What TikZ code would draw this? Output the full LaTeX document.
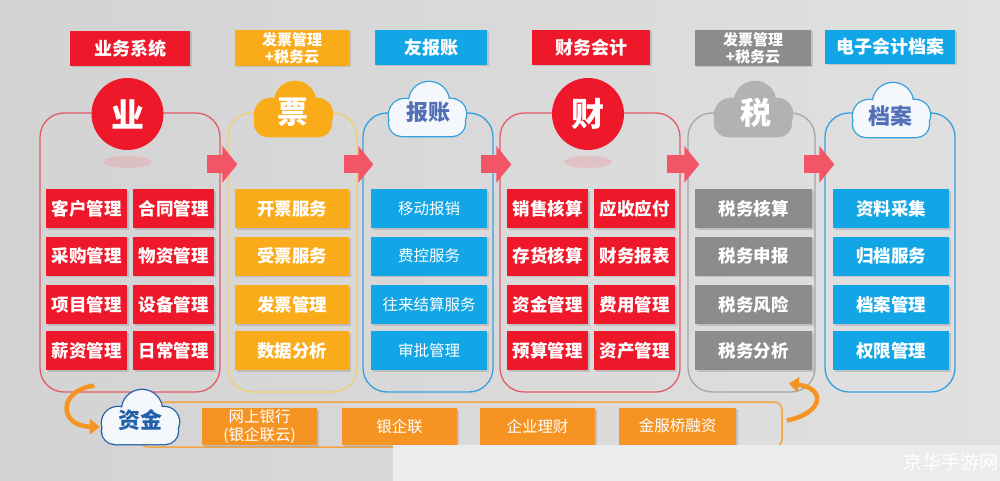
\documentclass[tikz,border=0pt]{standalone}
\usepackage{fontspec}
\setmainfont{Noto Sans CJK SC}
\usepackage{tikz}
\usetikzlibrary{arrows.meta,shadows}
\definecolor{bizred}{RGB}{238,24,42}
\definecolor{piaoorange}{RGB}{250,171,26}
\definecolor{bxblue}{RGB}{18,166,230}
\definecolor{shuigray}{RGB}{140,140,140}
\definecolor{shuicloud}{RGB}{178,178,178}
\definecolor{cashorange}{RGB}{245,148,34}
\definecolor{flowpink}{RGB}{242,86,102}
\definecolor{inkblue}{RGB}{82,112,182}
\definecolor{cashblue}{RGB}{34,96,170}
\definecolor{bggray}{RGB}{211,211,211}
\definecolor{bglight}{RGB}{224,224,224}
\definecolor{redline}{RGB}{226,92,104}
\definecolor{yellowline}{RGB}{240,206,112}
\definecolor{blueline}{RGB}{52,160,222}
\definecolor{grayline}{RGB}{165,165,165}
\definecolor{cloudwhite}{RGB}{244,247,251}
\definecolor{markgray}{RGB}{236,236,236}
\definecolor{glow}{RGB}{236,150,160}

\tikzset{
  pics/cloud/.style 2 args={code={
    \begin{scope}[draw=#2,line width=2.6pt]
    \draw[rounded corners=13pt] (-38,0) rectangle (38,26);
    \draw (-22,5) circle[radius=16pt];
    \draw (2,-8) circle[radius=20pt];
    \draw (24,4) circle[radius=15pt];
    \end{scope}
    \fill[#1,rounded corners=13pt] (-38,0) rectangle (38,26);
    \fill[#1] (-22,5) circle[radius=16pt] (2,-8) circle[radius=20pt] (24,4) circle[radius=15pt];
  }}
}

\begin{document}
\begin{tikzpicture}[x=1pt,y=-1pt,
  cell/.style={inner sep=0pt,minimum height=39pt,text=white,font=\bfseries\fontsize{17.5}{17.5}\selectfont,
    drop shadow={shadow xshift=1.5pt,shadow yshift=-1.5pt,opacity=0.3}},
  redcell/.style={cell,fill=bizred,minimum width=81pt},
  piaocell/.style={cell,fill=piaoorange,minimum width=114pt},
  bxcell/.style={cell,fill=bxblue,minimum width=116pt,font=\fontsize{15.5}{15.5}\selectfont},
  shuicell/.style={cell,fill=shuigray,minimum width=117pt},
  dangcell/.style={cell,fill=bxblue,minimum width=116pt},
  cashcell/.style={cell,fill=cashorange,minimum width=115pt,minimum height=37pt,align=center,font=\fontsize{15.5}{18}\selectfont},
  headbox/.style={inner sep=0pt,minimum height=35pt,text=white,align=center,font=\bfseries\fontsize{18}{18}\selectfont,
    drop shadow={shadow xshift=1.5pt,shadow yshift=-1.5pt,opacity=0.3}},
  panel/.style={inner sep=0pt,minimum height=279pt,line width=1.3pt,rounded corners=24pt},
  flow/.style={flowpink,line width=18pt,-{Triangle[length=15pt,width=36pt]}},
  bigchar/.style={text=white,font=\bfseries\fontsize{33}{33}\selectfont},
  cloudword/.style={text=inkblue,font=\bfseries\fontsize{22}{22}\selectfont},
  cashloop/.style={cashorange,line width=4.5pt,-{Triangle[length=10pt,width=15pt]}}
]
% background
\shade[left color=bggray,right color=bglight] (0,0) rectangle (1000,481);

% columns
\node[panel,draw=redline,minimum width=180pt] (pbiz) at (130,252.5) {};
\node[panel,draw=yellowline,minimum width=129pt] (ppiao) at (292.5,252.5) {};
\node[panel,draw=blueline,minimum width=130pt] (pbx) at (428,252.5) {};
\node[panel,draw=redline,minimum width=180pt] (pcai) at (590,252.5) {};
\node[panel,draw=grayline,minimum width=127pt] (pshui) at (751.5,252.5) {};
\node[panel,draw=blueline,minimum width=130pt] (pdang) at (890,252.5) {};

\draw[flow] ([shift={(-14,52)}]pbiz.north east) -- ([shift={(10,52)}]ppiao.north west);
\draw[flow] ([shift={(-14,52)}]ppiao.north east) -- ([shift={(11,52)}]pbx.north west);
\draw[flow] ([shift={(-13,52)}]pbx.north east) -- ([shift={(12,52)}]pcai.north west);
\draw[flow] ([shift={(-14,52)}]pcai.north east) -- ([shift={(12,52)}]pshui.north west);
\draw[flow] ([shift={(-12,52)}]pshui.north east) -- ([shift={(10,52)}]pdang.north west);

% titles
\node[headbox,fill=bizred,minimum width=120pt] (tbiz) at (130,48.5) {业务系统};
\node[headbox,fill=piaoorange,minimum width=114pt,minimum height=36pt,font=\bfseries\fontsize{15}{17}\selectfont] (tpiao) at (292,48) {发票管理\\+税务云};
\node[headbox,fill=bxblue,minimum width=112pt] (tbx) at (431,47.5) {友报账};
\node[headbox,fill=bizred,minimum width=118pt] (tcai) at (591,47.5) {财务会计};
\node[headbox,fill=shuigray,minimum width=116pt,minimum height=36pt,font=\bfseries\fontsize{15}{17}\selectfont] (tshui) at (753,48) {发票管理\\+税务云};
\node[headbox,fill=bxblue,minimum width=130pt,minimum height=34pt] (tdang) at (890,47) {电子会计档案};

% icons
\fill[glow,opacity=0.35] (127.5,162) ellipse [x radius=24pt,y radius=6pt];
\fill[glow,opacity=0.35] (588,162) ellipse [x radius=24pt,y radius=6pt];
\node[circle,fill=bizred,minimum size=72pt,inner sep=0pt,bigchar] (ye) at (127.5,114) {业};
\pic at (293,110) {cloud={piaoorange}{piaoorange}};
\node[bigchar,font=\bfseries\fontsize{31}{31}\selectfont] (piao) at (293,112) {票};
\pic at (427,110) {cloud={cloudwhite}{blueline}};
\node[cloudword] (baozhang) at (428,112) {报账};
\node[circle,fill=bizred,minimum size=72pt,inner sep=0pt,bigchar] (cai) at (588,114) {财};
\pic at (753,110) {cloud={shuicloud}{shuicloud}};
\node[bigchar,font=\bfseries\fontsize{31}{31}\selectfont] (shui) at (756,113) {税};
\pic at (891,111) {cloud={cloudwhite}{blueline}};
\node[cloudword] (dangan) at (890,116) {档案};

% business
\node[redcell] (kehu) at (86.5,208.5) {客户管理};
\node[redcell] (hetong) at (173.5,208.5) {合同管理};
\node[redcell] (caigou) at (86.5,256) {采购管理};
\node[redcell] (wuzi) at (173.5,256) {物资管理};
\node[redcell] (xiangmu) at (86.5,304.5) {项目管理};
\node[redcell] (shebei) at (173.5,304.5) {设备管理};
\node[redcell] (xinzi) at (86.5,350.5) {薪资管理};
\node[redcell] (richang) at (173.5,350.5) {日常管理};

% invoices
\node[piaocell] (kaipiao) at (292,208.5) {开票服务};
\node[piaocell] (shoupiao) at (292,256) {受票服务};
\node[piaocell] (fapiao) at (292,304.5) {发票管理};
\node[piaocell] (shuju) at (292,350.5) {数据分析};

% expenses
\node[bxcell] (yidong) at (429,208.5) {移动报销};
\node[bxcell] (feikong) at (429,256) {费控服务};
\node[bxcell] (wanglai) at (429,304.5) {往来结算服务};
\node[bxcell] (shenpi) at (429,350.5) {审批管理};

% finance
\node[redcell] (xiaoshou) at (547.5,208.5) {销售核算};
\node[redcell] (yingshou) at (634.5,208.5) {应收应付};
\node[redcell] (cunhuo) at (547.5,256) {存货核算};
\node[redcell] (baobiao) at (634.5,256) {财务报表};
\node[redcell] (zijin) at (547.5,304.5) {资金管理};
\node[redcell] (feiyong) at (634.5,304.5) {费用管理};
\node[redcell] (yusuan) at (547.5,350.5) {预算管理};
\node[redcell] (zichan) at (634.5,350.5) {资产管理};

% tax
\node[shuicell] (hesuan) at (753.5,208.5) {税务核算};
\node[shuicell] (shenbao) at (753.5,256) {税务申报};
\node[shuicell] (fengxian) at (753.5,304.5) {税务风险};
\node[shuicell] (fenxi) at (753.5,350.5) {税务分析};

% archive
\node[dangcell] (caiji) at (891,208.5) {资料采集};
\node[dangcell] (guidang) at (891,256) {归档服务};
\node[dangcell] (dangguan) at (891,304.5) {档案管理};
\node[dangcell] (quanxian) at (891,350.5) {权限管理};

% funds
\node[draw=cashorange!85,line width=1.5pt,rounded corners=8pt,minimum width=642pt,minimum height=45pt,inner sep=0pt] (cashbar) at (461,424.5) {};
\pic at (140,418) {cloud={cloudwhite}{cashblue}};
\node[minimum width=80pt,minimum height=55pt,inner sep=0pt,text=cashblue,font=\bfseries\fontsize{22}{22}\selectfont] (cash) at (140,420) {资金};
\node[cashcell] (wangyin) at (259.5,426.5) {网上银行\\(银企联云)};
\node[cashcell] (yinqi) at (399.5,426.5) {银企联};
\node[cashcell] (licai) at (537.5,426.5) {企业理财};
\node[cashcell,minimum width=117pt] (jinfu) at (677.5,426) {金服桥融资};

\draw[cashloop] ([shift={(55,-7)}]pbiz.south west) .. controls (58,390) and (58,426) .. ([yshift=-7pt]cash.west);
\draw[cashloop] ([shift={(4,-4)}]cashbar.east) .. controls (824,413) and (826,388) .. ([shift={(-27,-9)}]pshui.south east);

% watermark
\fill[markgray] (393,445) rectangle (1000,481);
\node[anchor=east,inner sep=0pt,text=white,font=\fontsize{19}{19}\selectfont] (mark) at (999,462) {京华手游网};
\end{tikzpicture}
\end{document}
